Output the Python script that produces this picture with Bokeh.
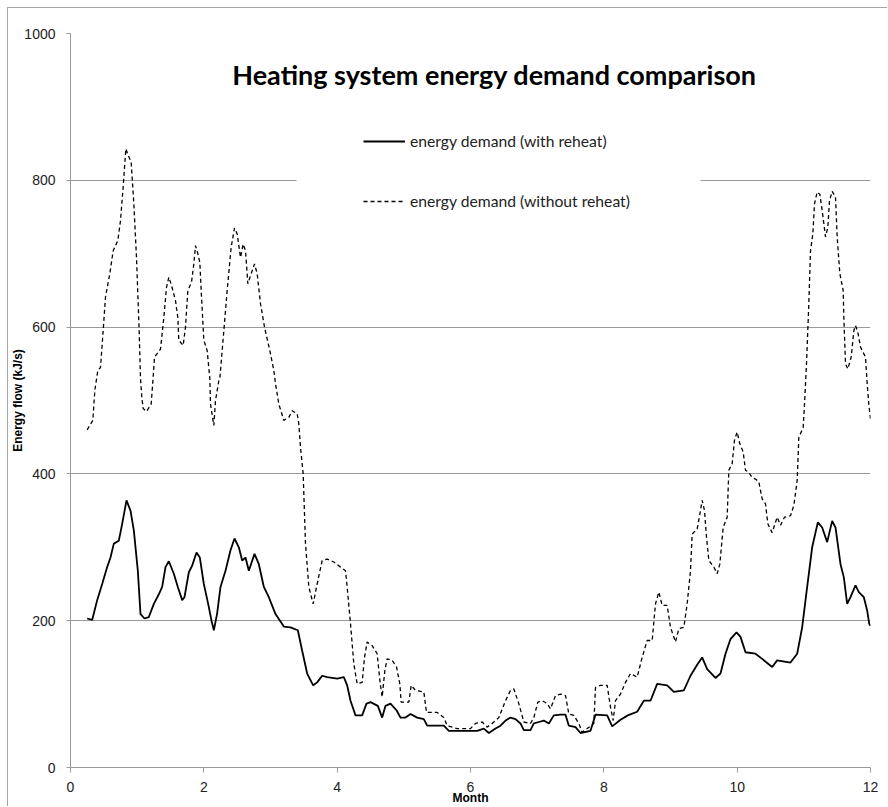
from bokeh.plotting import figure
from bokeh.models import Range1d, FixedTicker, Legend, LegendItem, Label, BoxAnnotation
from bokeh.embed import file_html
from bokeh.resources import INLINE

# ---- data ----
month_with = [0.25, 0.325, 0.40, 0.475, 0.55, 0.60, 0.65, 0.725, 0.775, 0.84, 0.90, 0.95, 1.01, 1.05, 1.11,
              1.175, 1.25, 1.325, 1.375, 1.425, 1.475, 1.55, 1.61, 1.675, 1.71, 1.775, 1.825, 1.89, 1.94, 2.0,
              2.065, 2.115, 2.15, 2.20, 2.25, 2.325, 2.40, 2.46, 2.525, 2.575, 2.625, 2.675, 2.76, 2.825, 2.90,
              2.975, 3.075, 3.20, 3.30, 3.41, 3.475, 3.55, 3.64, 3.70, 3.775, 3.85, 4.0, 4.10, 4.15, 4.20,
              4.275, 4.375, 4.44, 4.50, 4.61, 4.675, 4.725, 4.80, 4.89, 4.95, 5.025, 5.10, 5.20, 5.30, 5.35,
              5.60, 5.675, 5.95, 6.10, 6.20, 6.275, 6.375, 6.45, 6.525, 6.60, 6.675, 6.75, 6.80, 6.90, 6.95,
              7.025, 7.10, 7.175, 7.25, 7.35, 7.425, 7.475, 7.575, 7.65, 7.80, 7.875, 8.05, 8.125, 8.25, 8.36,
              8.50, 8.60, 8.70, 8.80, 8.95, 9.05, 9.20, 9.30, 9.40, 9.475, 9.55, 9.675, 9.75, 9.825, 9.90,
              9.99, 10.05, 10.125, 10.275, 10.375, 10.525, 10.60, 10.80, 10.90, 10.975, 11.05, 11.125, 11.21,
              11.275, 11.35, 11.425, 11.475, 11.55, 11.60, 11.65, 11.70, 11.775, 11.825, 11.90, 11.95, 11.98, 12.0]
demand_with = [203, 201, 228, 250, 273, 286, 305, 309, 332, 364, 350, 323, 268, 209, 203,
               205, 223, 236, 246, 273, 281, 264, 246, 228, 232, 266, 275, 293, 286, 250,
               223, 200, 187, 210, 246, 268, 296, 312, 300, 282, 286, 268, 291, 277, 246,
               232, 209, 192, 191, 187, 159, 128, 112, 116, 125, 123, 121, 123, 112, 91,
               71, 71, 87, 89, 84, 68, 84, 87, 78, 68, 68, 73, 68, 66, 57,
               57, 50, 50, 50, 53, 47, 53, 57, 64, 68, 66, 60, 51, 51, 60,
               62, 64, 60, 71, 72, 72, 57, 55, 47, 50, 72, 71, 56, 65, 71,
               76, 91, 91, 114, 112, 103, 105, 125, 140, 150, 134, 122, 128, 155, 175,
               184, 178, 157, 155, 148, 137, 146, 143, 155, 191, 246, 300, 334,
               327, 307, 336, 327, 277, 259, 223, 232, 248, 239, 232, 214, 196, 193]

month_without = [0.25, 0.335, 0.365, 0.41, 0.45, 0.49, 0.525, 0.59, 0.64, 0.71, 0.75, 0.79, 0.83, 0.865, 0.91,
                 0.95, 0.99, 1.03, 1.05, 1.07, 1.09, 1.14, 1.21, 1.24, 1.26, 1.35, 1.40, 1.44, 1.475, 1.515,
                 1.575, 1.61, 1.625, 1.69, 1.725, 1.76, 1.815, 1.85, 1.875, 1.91, 1.94, 1.96, 2.0, 2.05, 2.09,
                 2.10, 2.15, 2.175, 2.225, 2.24, 2.30, 2.35, 2.41, 2.46, 2.50, 2.55, 2.59, 2.625, 2.66, 2.70,
                 2.76, 2.80, 2.85, 2.91, 2.99, 3.05, 3.075, 3.125, 3.20, 3.275, 3.325, 3.40, 3.425, 3.45, 3.49,
                 3.525, 3.575, 3.64, 3.70, 3.775, 3.85, 3.95, 4.05, 4.125, 4.15, 4.20, 4.25, 4.30, 4.375, 4.41,
                 4.45, 4.525, 4.60, 4.64, 4.675, 4.715, 4.75, 4.825, 4.89, 4.94, 4.96, 5.075, 5.11, 5.175, 5.30,
                 5.34, 5.50, 5.60, 5.65, 5.80, 6.0, 6.075, 6.175, 6.25, 6.325, 6.425, 6.525, 6.60, 6.65, 6.725,
                 6.80, 6.90, 6.95, 7.01, 7.075, 7.15, 7.20, 7.275, 7.35, 7.425, 7.475, 7.55, 7.625, 7.675, 7.75,
                 7.85, 7.875, 7.95, 8.05, 8.10, 8.14, 8.175, 8.25, 8.325, 8.40, 8.50, 8.575, 8.65, 8.725, 8.775,
                 8.825, 8.875, 8.95, 9.0, 9.075, 9.125, 9.20, 9.25, 9.30, 9.325, 9.40, 9.44, 9.475, 9.51, 9.54,
                 9.575, 9.65, 9.70, 9.74, 9.79, 9.85, 9.875, 9.925, 9.96, 10.0, 10.04, 10.09, 10.125, 10.175,
                 10.225, 10.275, 10.325, 10.375, 10.425, 10.46, 10.525, 10.60, 10.65, 10.71, 10.80, 10.85, 10.90,
                 10.925, 10.99, 11.01, 11.04, 11.075, 11.10, 11.135, 11.16, 11.20, 11.24, 11.275, 11.325, 11.36,
                 11.385, 11.425, 11.475, 11.50, 11.54, 11.59, 11.60, 11.625, 11.66, 11.71, 11.75, 11.775, 11.81,
                 11.85, 11.925, 11.95, 11.975, 12.0]
demand_without = [460, 473, 514, 541, 545, 595, 641, 673, 704, 718, 745, 791, 843, 834, 825,
                  768, 695, 595, 530, 504, 489, 485, 495, 532, 559, 570, 613, 654, 668, 657,
                  636, 613, 582, 575, 600, 650, 661, 686, 711, 700, 688, 650, 582, 568, 530,
                  495, 466, 500, 527, 530, 595, 650, 709, 735, 727, 695, 713, 704, 659, 670,
                  686, 673, 632, 600, 568, 541, 523, 495, 473, 477, 486, 482, 468, 436, 400,
                  305, 246, 223, 250, 282, 284, 280, 273, 268, 246, 196, 141, 114, 116, 150,
                  171, 166, 155, 119, 96, 132, 148, 146, 137, 114, 89, 89, 112, 105, 103,
                  75, 75, 68, 57, 53, 53, 60, 62, 55, 60, 68, 91, 105, 107, 87,
                  62, 60, 68, 89, 91, 87, 80, 98, 100, 98, 73, 71, 60, 48, 53,
                  60, 109, 112, 112, 82, 64, 91, 100, 116, 128, 123, 150, 173, 173, 223,
                  239, 221, 221, 191, 171, 189, 191, 223, 268, 318, 325, 345, 364, 350, 314,
                  282, 273, 264, 277, 327, 341, 405, 414, 446, 457, 441, 430, 405, 402,
                  395, 393, 389, 366, 359, 332, 320, 341, 330, 341, 343, 357, 391,
                  450, 463, 495, 550, 632, 704, 727, 768, 784, 781, 759, 723, 736,
                  772, 785, 777, 723, 673, 650, 613, 550, 543, 559, 595, 602, 593,
                  573, 559, 523, 495, 475]

x_ticks = [0, 2, 4, 6, 8, 10, 12]
y_ticks = [0, 200, 400, 600, 800, 1000]
series_labels = ["energy demand (with reheat)", "energy demand (without reheat)"]
title_text = "Heating system energy demand comparison"
x_label = "Month"
y_label = "Energy flow (kJ/s)"

GRAY = "#9a9a9a"
TXT = "#222222"

p = figure(width=880, height=799, output_backend="svg", toolbar_location=None,
           x_range=Range1d(0, 12), y_range=Range1d(0, 1000),
           min_border_left=62, min_border_right=18, min_border_top=25, min_border_bottom=40)
p.outline_line_color = None
p.background_fill_color = "white"
p.border_fill_color = "white"
p.styles = {"margin-left": "8px", "margin-top": "8px", "box-shadow": "-1px -1px 0 0 #a6a6a6"}

p.xgrid.grid_line_color = None
p.ygrid.grid_line_color = GRAY
p.ygrid.ticker = FixedTicker(ticks=y_ticks)

for ax in (p.xaxis[0], p.yaxis[0]):
    ax.axis_line_color = GRAY
    ax.major_tick_line_color = GRAY
    ax.minor_tick_line_color = None
    ax.major_tick_in = 0
    ax.major_label_text_font = "Liberation Sans"
    ax.major_label_text_font_size = "14px"
    ax.major_label_text_color = TXT
    ax.axis_label_text_font = "Liberation Sans"
    ax.axis_label_text_font_style = "bold"
    ax.axis_label_text_font_size = "12px"
    ax.axis_label_text_color = "black"

p.xaxis.ticker = FixedTicker(ticks=x_ticks)
p.yaxis.ticker = FixedTicker(ticks=y_ticks)
p.xaxis.major_tick_out = 5
p.yaxis.major_tick_out = 4
p.xaxis.major_label_standoff = 9
p.yaxis.major_label_standoff = 11
p.xaxis.axis_label = x_label
p.yaxis.axis_label = y_label
p.xaxis.axis_label_standoff = -4
p.yaxis.axis_label_standoff = -4

# white panel behind the legend (interrupts the 800 gridline like the reference)
p.add_layout(BoxAnnotation(left=3.39, right=9.45, bottom=770, top=830,
                           fill_color="white", fill_alpha=1.0, line_color=None, level="underlay"))

r1 = p.line(month_with, demand_with, line_color="black", line_width=1.8)
r2 = p.line(month_without, demand_without, line_color="black", line_width=1.3, line_dash="4 3")

legend = Legend(items=[LegendItem(label=series_labels[0], renderers=[r1]),
                       LegendItem(label=series_labels[1], renderers=[r2])],
                location=(293, 556), padding=0, spacing=40, glyph_width=42, glyph_height=20,
                label_standoff=5, border_line_color=None, background_fill_color="white",
                background_fill_alpha=1.0, label_text_font="Lato", label_text_font_size="15.7px",
                label_text_color=TXT, margin=0)
p.add_layout(legend, "center")

title = Label(x=6.36, y=944, text=title_text, text_font="Lato", text_font_style="bold",
              text_font_size="27px", text_align="center", text_baseline="middle", text_color="black")
p.add_layout(title)

open("out.html", "w").write(file_html(p, INLINE))
